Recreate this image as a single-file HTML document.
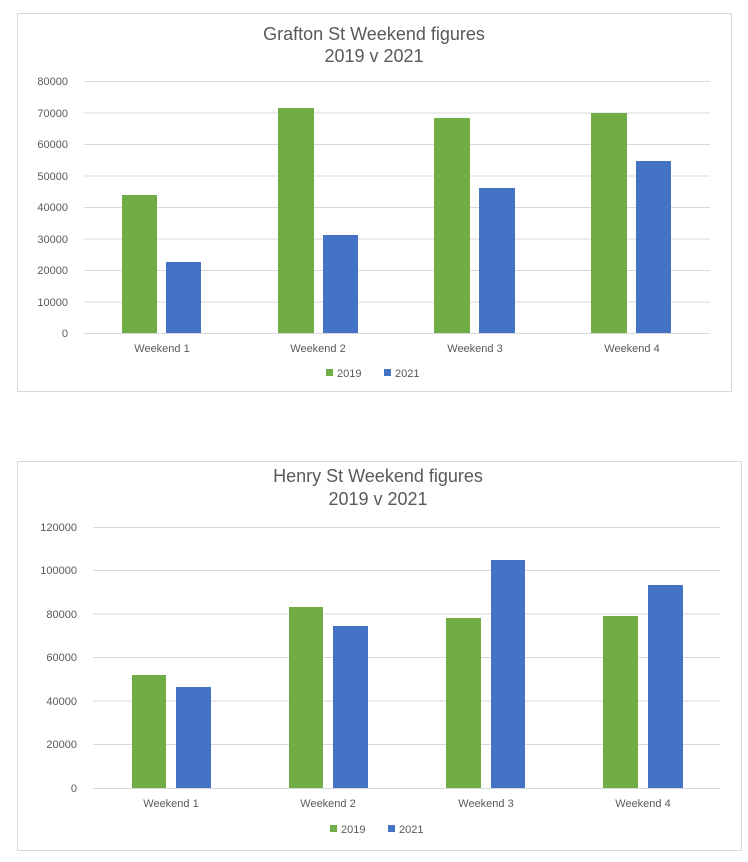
<!DOCTYPE html>
<html><head><meta charset="utf-8"><style>
html,body{margin:0;padding:0;background:#fff;}
svg{display:block;font-family:"Liberation Sans",sans-serif;}
</style></head><body>
<svg width="748" height="862" viewBox="0 0 748 862">
<!-- Chart 1 -->
<rect x="17.5" y="13.5" width="714" height="378" fill="#fff" stroke="#d9d9d9"/>
<text x="374" y="40" text-anchor="middle" font-size="18" fill="#595959">Grafton St Weekend figures</text>
<text x="374" y="62" text-anchor="middle" font-size="18" fill="#595959">2019 v 2021</text>
<g stroke="#d9d9d9" stroke-width="1">
<line x1="84" x2="710" y1="81.5" y2="81.5"/><line x1="84" x2="710" y1="113" y2="113"/>
<line x1="84" x2="710" y1="144.5" y2="144.5"/><line x1="84" x2="710" y1="176" y2="176"/>
<line x1="84" x2="710" y1="207.5" y2="207.5"/><line x1="84" x2="710" y1="239" y2="239"/>
<line x1="84" x2="710" y1="270.5" y2="270.5"/><line x1="84" x2="710" y1="302" y2="302"/>
<line x1="84" x2="710" y1="333.5" y2="333.5"/>
</g>
<g font-size="11" fill="#595959" text-anchor="end">
<text x="68" y="85">80000</text><text x="68" y="117">70000</text><text x="68" y="148">60000</text>
<text x="68" y="180">50000</text><text x="68" y="211">40000</text><text x="68" y="243">30000</text>
<text x="68" y="274">20000</text><text x="68" y="306">10000</text><text x="68" y="337">0</text>
</g>
<g fill="#70ad47">
<rect x="122" y="195" width="35" height="138"/><rect x="278" y="108" width="36" height="225"/>
<rect x="434" y="118" width="36" height="215"/><rect x="591" y="113" width="36" height="220"/>
</g>
<g fill="#4472c4">
<rect x="166" y="262" width="35" height="71"/><rect x="323" y="235" width="35" height="98"/>
<rect x="479" y="188" width="36" height="145"/><rect x="636" y="161" width="35" height="172"/>
</g>
<g font-size="11" fill="#595959" text-anchor="middle">
<text x="162" y="352">Weekend 1</text><text x="318" y="352">Weekend 2</text>
<text x="475" y="352">Weekend 3</text><text x="632" y="352">Weekend 4</text>
</g>
<rect x="326" y="533" width="0" height="0"/>
<rect x="326" y="369" width="7" height="7" fill="#70ad47"/>
<text x="337" y="377" font-size="11" fill="#595959">2019</text>
<rect x="384" y="369" width="7" height="7" fill="#4472c4"/>
<text x="395" y="377" font-size="11" fill="#595959">2021</text>

<!-- Chart 2 -->
<rect x="17.5" y="461.5" width="724" height="389" fill="#fff" stroke="#d9d9d9"/>
<text x="378" y="482" text-anchor="middle" font-size="18" fill="#595959">Henry St Weekend figures</text>
<text x="378" y="505" text-anchor="middle" font-size="18" fill="#595959">2019 v 2021</text>
<g stroke="#d9d9d9" stroke-width="1">
<line x1="93" x2="720" y1="527.5" y2="527.5"/><line x1="93" x2="720" y1="570.5" y2="570.5"/>
<line x1="93" x2="720" y1="614" y2="614"/><line x1="93" x2="720" y1="657.5" y2="657.5"/>
<line x1="93" x2="720" y1="701" y2="701"/><line x1="93" x2="720" y1="744.5" y2="744.5"/>
<line x1="93" x2="720" y1="788.5" y2="788.5"/>
</g>
<g font-size="11" fill="#595959" text-anchor="end">
<text x="77" y="531">120000</text><text x="77" y="574">100000</text><text x="77" y="618">80000</text>
<text x="77" y="661">60000</text><text x="77" y="705">40000</text><text x="77" y="748">20000</text>
<text x="77" y="792">0</text>
</g>
<g fill="#70ad47">
<rect x="132" y="675" width="34" height="113"/><rect x="289" y="607" width="34" height="181"/>
<rect x="446" y="618" width="35" height="170"/><rect x="603" y="616" width="35" height="172"/>
</g>
<g fill="#4472c4">
<rect x="176" y="687" width="35" height="101"/><rect x="333" y="626" width="35" height="162"/>
<rect x="491" y="560" width="34" height="228"/><rect x="648" y="585" width="35" height="203"/>
</g>
<g font-size="11" fill="#595959" text-anchor="middle">
<text x="171" y="807">Weekend 1</text><text x="328" y="807">Weekend 2</text>
<text x="486" y="807">Weekend 3</text><text x="643" y="807">Weekend 4</text>
</g>
<rect x="330" y="825" width="7" height="7" fill="#70ad47"/>
<text x="341" y="833" font-size="11" fill="#595959">2019</text>
<rect x="388" y="825" width="7" height="7" fill="#4472c4"/>
<text x="399" y="833" font-size="11" fill="#595959">2021</text>
</svg>
</body></html>
